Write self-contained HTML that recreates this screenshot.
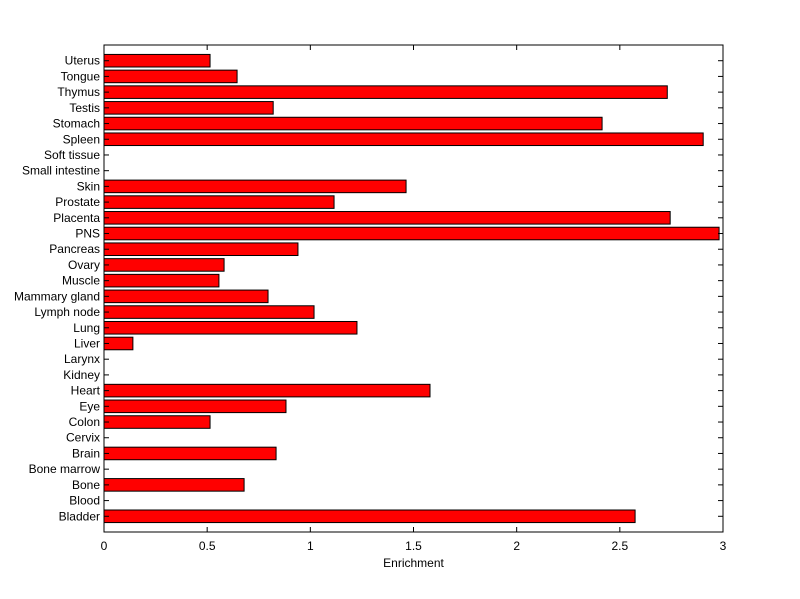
<!DOCTYPE html>
<html><head><meta charset="utf-8"><style>
body{margin:0;background:#fff;}
svg{display:block;font-family:"Liberation Sans",Arial,sans-serif;}
</style></head><body>
<svg id="chart" width="800" height="599" xmlns="http://www.w3.org/2000/svg"></svg>
<script>
const categories=["Bladder","Blood","Bone","Bone marrow","Brain","Cervix","Colon","Eye","Heart","Kidney","Larynx","Liver","Lung","Lymph node","Mammary gland","Muscle","Ovary","Pancreas","PNS","Placenta","Prostate","Skin","Small intestine","Soft tissue","Spleen","Stomach","Testis","Thymus","Tongue","Uterus"];
const values=[2.574,0,0.679,0,0.834,0,0.514,0.882,1.58,0,0,0.14,1.226,1.018,0.795,0.557,0.582,0.94,2.981,2.744,1.115,1.464,0,0,2.904,2.414,0.82,2.73,0.645,0.514];
const xTicks=[0,0.5,1,1.5,2,2.5,3];
const xTickLabels=["0","0.5","1","1.5","2","2.5","3"];

const NS="http://www.w3.org/2000/svg";
const svg=document.getElementById('chart');
const L=104,R=723,T=45,B=532;
const xMax=3,yMax=categories.length+1;
const xs=v=>L+v/xMax*(R-L);
const ys=i=>B-(i+1)/yMax*(B-T);
const barH=0.8*(B-T)/yMax;
function mk(tag,attrs){const e=document.createElementNS(NS,tag);for(const k in attrs)e.setAttribute(k,attrs[k]);svg.appendChild(e);return e;}

const frame=mk('rect',{x:L,y:T,width:R-L,height:B-T,fill:'#fff',stroke:'#000','stroke-width':1});



values.forEach((v,i)=>{
  if(v>0){
    const r=mk('rect',{x:xs(0),y:ys(i)-barH/2,width:xs(v)-xs(0),height:barH,fill:'#ff0000',stroke:'#000','stroke-width':1});
    
    
  }
  const y=ys(i);
  mk('line',{x1:L,x2:L+5,y1:y,y2:y,stroke:'#000'});
  mk('line',{x1:R-5,x2:R,y1:y,y2:y,stroke:'#000'});
  const t=mk('text',{x:L-4,y:y+4,'text-anchor':'end','font-size':12,fill:'#000'});
  t.textContent=categories[i];
  
  
});

xTicks.forEach((v,i)=>{
  const x=xs(v);
  mk('line',{x1:x,x2:x,y1:B,y2:B-5,stroke:'#000'});
  mk('line',{x1:x,x2:x,y1:T,y2:T+5,stroke:'#000'});
  const t=mk('text',{x:x,y:B+18,'text-anchor':'middle','font-size':12,fill:'#000'});
  t.textContent=xTickLabels[i];
  
  
});

const xt=mk('text',{x:(L+R)/2,y:B+35,'text-anchor':'middle','font-size':12,fill:'#000'});
xt.textContent='Enrichment';


</script>
</body></html>
